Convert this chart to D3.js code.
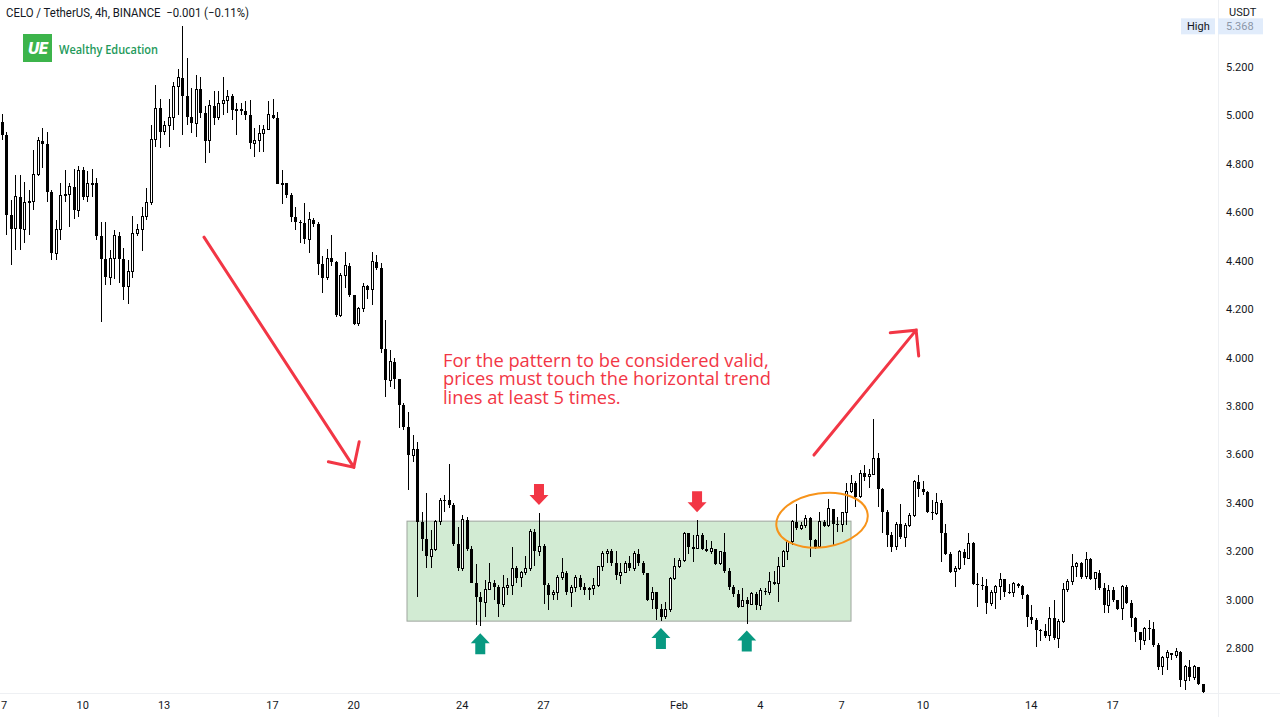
<!DOCTYPE html>
<html><head><meta charset="utf-8">
<script src="https://cdn.jsdelivr.net/npm/d3@7"></script>
<style>body{margin:0;background:#fff;overflow:hidden} svg{display:block} text{white-space:pre}</style>
</head><body>
<svg id="c" width="1280" height="717"></svg>
<script>
// ---------------- DATA ----------------
const startDate = "2022-01-07T00:00:00Z";
const barHours = 4;
const firstOpen = 4.974;
const closes = [4.919,4.588,4.531,4.664,4.53,4.639,4.644,4.754,4.896,4.88,
4.685,4.43,4.53,4.671,4.675,4.706,4.609,4.774,4.664,4.719,
4.72,4.502,4.405,4.331,4.409,4.502,4.405,4.292,4.354,4.513,
4.53,4.581,4.639,4.901,5.029,4.933,4.96,4.992,5.119,5.156,
5.08,4.995,4.967,5.108,5.009,4.896,5.039,4.99,5.05,5.06,
5.08,5.022,5.025,5.02,5.0,4.885,4.895,4.926,4.94,5.002,
4.99,4.717,4.72,4.671,4.579,4.56,4.557,4.488,4.568,4.55,
4.386,4.33,4.41,4.396,4.175,4.34,4.378,4.258,4.14,4.203,
4.295,4.28,4.396,4.37,4.034,3.907,3.983,3.91,3.803,3.714,
3.597,3.62,3.32,3.25,3.178,3.205,3.322,3.411,3.41,3.39,
3.23,3.13,3.33,3.21,3.07,3.01,2.99,3.04,3.07,3.05,
2.98,3.05,3.06,3.13,3.09,3.11,3.13,3.28,3.20,3.22,
3.06,3.02,3.03,3.09,3.11,3.03,3.05,3.09,3.05,3.04,
3.045,3.06,3.135,3.19,3.20,3.15,3.10,3.11,3.15,3.13,
3.19,3.15,3.11,3.00,3.03,2.96,2.93,2.96,3.087,3.135,
3.16,3.273,3.218,3.21,3.266,3.211,3.20,3.21,3.149,3.197,
3.12,3.05,3.025,2.97,2.998,2.98,3.025,2.977,3.036,3.03,
3.073,3.066,3.135,3.197,3.239,3.321,3.294,3.307,3.335,3.245,
3.218,3.321,3.304,3.376,3.314,3.31,3.358,3.445,3.48,3.424,
3.521,3.507,3.515,3.583,3.455,3.363,3.266,3.218,3.312,3.257,
3.307,3.349,3.487,3.455,3.445,3.363,3.356,3.40,3.273,3.188,
3.115,3.13,3.197,3.17,3.232,3.066,3.06,3.055,2.984,3.03,
3.053,3.083,3.032,3.03,3.066,3.058,3.018,2.929,2.915,2.874,
2.87,2.85,2.922,2.84,2.91,3.042,3.073,3.138,3.15,3.094,
3.166,3.087,3.11,3.046,2.977,3.039,2.998,2.963,3.053,2.987,
2.922,2.867,2.832,2.881,2.878,2.812,2.722,2.76,2.78,2.77,
2.784,2.667,2.722,2.68,2.722,2.653,2.619];
const highs = [5.005,4.93,4.65,4.754,4.754,4.726,4.692,4.857,4.912,4.949,
4.932,4.69,4.568,4.722,4.774,4.72,4.777,4.791,4.785,4.77,
4.777,4.74,4.561,4.561,4.444,4.526,4.52,4.451,4.403,4.584,
4.55,4.623,4.699,4.96,5.126,5.067,4.975,5.067,5.139,5.19,
5.368,5.238,5.112,5.167,5.157,5.04,5.064,5.10,5.10,5.16,
5.105,5.09,5.05,5.05,5.06,5.064,4.95,4.96,4.96,5.061,
5.066,5.016,4.774,4.72,4.68,4.623,4.57,4.639,4.60,4.575,
4.56,4.42,4.45,4.506,4.40,4.35,4.437,4.39,4.26,4.21,
4.309,4.30,4.437,4.424,4.39,4.155,4.03,4.0,3.91,3.81,
3.776,3.68,3.65,3.36,3.439,3.287,3.33,3.42,3.43,3.56,
3.40,3.30,3.35,3.34,3.22,3.149,3.03,3.08,3.152,3.08,
3.06,3.10,3.09,3.218,3.14,3.12,3.18,3.29,3.29,3.358,
3.23,3.07,3.04,3.10,3.17,3.12,3.06,3.10,3.10,3.07,
3.05,3.09,3.14,3.20,3.21,3.21,3.20,3.15,3.16,3.18,
3.20,3.21,3.16,3.11,3.05,3.03,2.98,2.99,3.094,3.17,
3.17,3.28,3.276,3.266,3.328,3.273,3.245,3.24,3.21,3.20,
3.273,3.13,3.06,3.04,3.046,3.01,3.03,3.03,3.046,3.046,
3.115,3.12,3.177,3.204,3.245,3.328,3.394,3.321,3.349,3.342,
3.252,3.363,3.328,3.414,3.376,3.342,3.363,3.48,3.514,3.49,
3.535,3.555,3.54,3.748,3.604,3.462,3.37,3.28,3.321,3.394,
3.318,3.356,3.494,3.514,3.49,3.45,3.41,3.44,3.41,3.311,
3.197,3.14,3.204,3.207,3.273,3.239,3.108,3.094,3.087,3.04,
3.06,3.108,3.087,3.066,3.073,3.07,3.06,3.025,2.977,2.925,
2.88,2.90,2.97,3.0,2.92,3.067,3.083,3.188,3.156,3.156,
3.197,3.17,3.115,3.124,3.07,3.06,3.053,3.0,3.06,3.06,
2.998,2.926,2.867,2.888,2.915,2.908,2.82,2.766,2.79,2.78,
2.80,2.787,2.729,2.75,2.73,2.722,2.653];
const lows = [4.898,4.506,4.382,4.444,4.444,4.473,4.506,4.61,4.75,4.782,
4.644,4.403,4.403,4.485,4.644,4.541,4.571,4.58,4.65,4.644,
4.664,4.485,4.148,4.299,4.299,4.326,4.306,4.237,4.221,4.33,
4.50,4.441,4.57,4.63,4.87,4.864,4.92,4.87,4.94,5.0,
4.919,4.96,4.926,4.912,4.99,4.805,4.843,4.96,4.98,5.0,
5.01,4.98,4.919,5.0,4.98,4.86,4.83,4.85,4.85,4.94,
4.985,4.717,4.634,4.66,4.56,4.526,4.471,4.47,4.43,4.54,
4.34,4.267,4.32,4.38,4.166,4.166,4.286,4.25,4.134,4.13,
4.19,4.24,4.216,4.36,4.017,3.838,3.88,3.87,3.707,3.70,
3.452,3.57,3.01,3.20,3.13,3.13,3.20,3.31,3.36,3.38,
3.22,3.12,3.12,3.20,3.07,2.894,2.89,2.93,3.04,3.0,
2.93,2.97,3.02,3.02,3.07,3.05,3.10,3.12,3.14,3.18,
2.98,2.956,3.00,3.00,3.08,3.02,2.97,3.03,3.04,3.02,
3.00,3.02,3.05,3.12,3.15,3.14,3.08,3.066,3.11,3.12,
3.12,3.14,3.10,2.995,2.96,2.915,2.912,2.92,2.95,3.08,
3.13,3.155,3.19,3.156,3.21,3.204,3.197,3.19,3.142,3.142,
3.11,3.04,3.01,2.967,2.97,2.901,2.977,2.956,2.956,3.02,
3.02,3.06,2.99,3.135,3.163,3.225,3.287,3.287,3.294,3.177,
3.211,3.232,3.30,3.30,3.221,3.28,3.28,3.31,3.44,3.383,
3.42,3.49,3.459,3.518,3.383,3.273,3.218,3.197,3.204,3.252,
3.218,3.30,3.34,3.425,3.43,3.356,3.328,3.349,3.156,3.184,
3.108,3.053,3.122,3.142,3.166,3.06,2.97,3.04,2.942,2.973,
2.963,3.0,3.011,3.025,3.011,3.046,3.004,2.887,2.901,2.805,
2.83,2.84,2.83,2.835,2.80,2.904,3.032,3.06,3.094,3.087,
3.087,3.08,3.039,3.039,2.943,2.943,2.99,2.956,2.915,2.98,
2.887,2.826,2.791,2.812,2.832,2.805,2.708,2.688,2.71,2.75,
2.757,2.64,2.625,2.664,2.667,2.646,2.616];

const tickDates = ["2022-01-07","2022-01-10","2022-01-13","2022-01-17","2022-01-20","2022-01-24","2022-01-27","2022-02-01","2022-02-04","2022-02-07","2022-02-10","2022-02-14","2022-02-17"];
const tickLabels = ["7","10","13","17","20","24","27","Feb","4","7","10","14","17"];
const priceTicks = [2.8,3.0,3.2,3.4,3.6,3.8,4.0,4.2,4.4,4.6,4.8,5.0,5.2];
const sessionHigh = 5.368;

// annotations (in data space)
const rangeBox = {from:"2022-01-21T23:07:00Z", to:"2022-02-07T08:20:00Z", top:3.324, bottom:2.911};
const trendArrows = [
  {from:["2022-01-14T11:20:00Z",4.497], to:["2022-01-20T00:00:00Z",3.547]},
  {from:["2022-02-05T23:30:00Z",3.597], to:["2022-02-09T18:00:00Z",4.113]}
];
const resistanceTouches = [119,154];
const supportTouches = [106,146,165];
const breakoutZone = {at:"2022-02-06T06:40:00Z", price:3.328};
const noteLines = ["For the pattern to be considered valid,","prices must touch the horizontal trend","lines at least 5 times."];
const noteAnchor = {at:"2022-01-23T07:00:00Z", price:3.962};

// ---------------- CHART ----------------
const svg = d3.select("#c");
const plotR = 1218, plotB = 693;
const x = d3.scaleUtc()
  .domain([new Date(startDate), new Date("2022-02-20T00:00:00Z")])
  .range([1.5, 1.5 + 44*27.1]);
const y = d3.scaleLinear().domain([2.8, 5.2]).range([648, 67]);

const t0 = new Date(startDate).getTime();
const bars = closes.map((c,i)=>({
  i, date:new Date(t0 + i*barHours*3600e3),
  o: i ? closes[i-1] : firstOpen, c, h: highs[i], l: lows[i]
}));

svg.append("rect").attr("width",1280).attr("height",717).attr("fill","#fff");
svg.append("defs").append("clipPath").attr("id","plot")
  .append("rect").attr("x",0).attr("y",0).attr("width",plotR).attr("height",plotB);

// separators
svg.append("line").attr("x1",plotR+0.5).attr("x2",plotR+0.5).attr("y1",0).attr("y2",717)
  .attr("stroke","#eef0f3");
svg.append("line").attr("x1",0).attr("x2",1280).attr("y1",plotB+0.5).attr("y2",plotB+0.5)
  .attr("stroke","#eef0f3");

const plot = svg.append("g").attr("clip-path","url(#plot)");

// range box
plot.append("rect")
  .attr("x", x(new Date(rangeBox.from)))
  .attr("y", y(rangeBox.top))
  .attr("width", x(new Date(rangeBox.to)) - x(new Date(rangeBox.from)))
  .attr("height", y(rangeBox.bottom) - y(rangeBox.top))
  .attr("fill","rgba(76,175,80,0.25)")
  .attr("stroke","#9ea59e").attr("stroke-width",1);

// candles
const cg = plot.append("g").attr("shape-rendering","crispEdges");
const candle = cg.selectAll("g.cd").data(bars).join("g").attr("class","cd");
candle.append("line")
  .attr("x1", d=>Math.round(x(d.date))+0.5).attr("x2", d=>Math.round(x(d.date))+0.5)
  .attr("y1", d=>y(Math.max(d.h,d.o,d.c))).attr("y2", d=>y(Math.min(d.l,d.o,d.c)))
  .attr("stroke","#000").attr("stroke-width",1);
candle.append("rect")
  .attr("x", d=> d.c>=d.o ? Math.round(x(d.date))-0.5 : Math.round(x(d.date))-1)
  .attr("width", d=> d.c>=d.o ? 2 : 3)
  .attr("y", d=>y(Math.max(d.o,d.c)))
  .attr("height", d=>Math.max(1, Math.abs(y(d.o)-y(d.c))))
  .attr("fill", d=> d.c>=d.o ? "#fff" : "#000")
  .attr("stroke", d=> d.c>=d.o ? "#000" : "none")
  .attr("stroke-width",1);

// trend arrows
const red = "#f23645";
trendArrows.forEach(a=>{
  const x1=x(new Date(a.from[0])), y1=y(a.from[1]), x2=x(new Date(a.to[0])), y2=y(a.to[1]);
  plot.append("line").attr("x1",x1).attr("y1",y1).attr("x2",x2).attr("y2",y2)
    .attr("stroke",red).attr("stroke-width",3).attr("stroke-linecap","round");
  const back = Math.atan2(y1-y2, x1-x2), L = 26, sp = Math.PI/4;
  const pts = [[x2+L*Math.cos(back-sp), y2+L*Math.sin(back-sp)],[x2,y2],[x2+L*Math.cos(back+sp), y2+L*Math.sin(back+sp)]];
  plot.append("path").attr("d", d3.line()(pts)).attr("fill","none")
    .attr("stroke",red).attr("stroke-width",3).attr("stroke-linecap","round").attr("stroke-linejoin","miter");
});

// touch markers (block arrows)
function blockArrow(cx, tipY, dir, color){
  // dir: 1 = pointing down, -1 = pointing up
  const hw = 9.5, sw = 5, hh = 10, sh = 11;
  const pts = [[cx, tipY],[cx+hw, tipY-dir*hh],[cx+sw, tipY-dir*hh],[cx+sw, tipY-dir*(hh+sh)],
               [cx-sw, tipY-dir*(hh+sh)],[cx-sw, tipY-dir*hh],[cx-hw, tipY-dir*hh]];
  plot.append("path").attr("d", d3.line()(pts)+"Z").attr("fill",color);
}
resistanceTouches.forEach(i=>{
  const b = bars[i]; blockArrow(x(b.date), y(b.h)-8, 1, red);
});
supportTouches.forEach(i=>{
  const b = bars[i]; blockArrow(x(b.date), y(b.l)+7, -1, "#089981");
});

// breakout ellipse
plot.append("ellipse")
  .attr("cx", x(new Date(breakoutZone.at))).attr("cy", y(breakoutZone.price))
  .attr("rx",46).attr("ry",27).attr("fill","none")
  .attr("stroke","#f7931a").attr("stroke-width",2)
  .attr("transform", `rotate(-8 ${x(new Date(breakoutZone.at))} ${y(breakoutZone.price)})`);

// note text
const nx = x(new Date(noteAnchor.at));
const note = plot.append("g").attr("fill",red).attr("font-family","'Open Sans', sans-serif").attr("font-size",18.3);
noteLines.forEach((t,k)=> note.append("text").attr("x", nx).attr("y", y(noteAnchor.price) + k*18.6).text(t));

// y axis labels
const yg = svg.append("g").attr("font-family","Roboto, sans-serif").attr("font-size",11).attr("fill","#131722");
yg.selectAll("text").data(priceTicks).join("text")
  .attr("x",1226).attr("y", d=>y(d)+4).text(d=>d3.format(".3f")(d));
yg.append("text").attr("x",1229).attr("y",16).text("USDT");
// high label
svg.append("rect").attr("x",1181).attr("y",y(sessionHigh)-8).attr("width",34).attr("height",16).attr("fill","#e1ecfb");
svg.append("rect").attr("x",1218).attr("y",y(sessionHigh)-8).attr("width",45).attr("height",16).attr("fill","#e1ecfb");
svg.append("text").attr("x",1187).attr("y",y(sessionHigh)+4).attr("font-family","Roboto, sans-serif").attr("font-size",11).attr("fill","#131722").text("High");
svg.append("text").attr("x",1226).attr("y",y(sessionHigh)+4).attr("font-family","Roboto, sans-serif").attr("font-size",11).attr("fill","#8c97a8").text(d3.format(".3f")(sessionHigh));

// x axis labels
const xg = svg.append("g").attr("font-family","Roboto, sans-serif").attr("font-size",11).attr("fill","#131722").attr("text-anchor","middle");
xg.selectAll("text").data(tickDates).join("text")
  .attr("x", d=>Math.max(4, x(new Date(d+"T00:00:00Z")))).attr("y",709)
  .text((d,k)=>tickLabels[k]);

// header
svg.append("text").attr("x",6).attr("y",17).attr("font-family","Roboto, sans-serif").attr("font-size",12)
  .attr("textLength",243).attr("lengthAdjust","spacingAndGlyphs")
  .attr("fill","#131722").text("CELO / TetherUS, 4h, BINANCE  \u22120.001 (\u22120.11%)");
// logo
svg.append("rect").attr("x",23).attr("y",34).attr("width",29).attr("height",28).attr("fill","#3cb44b");
svg.append("text").attr("x",37.5).attr("y",54).attr("text-anchor","middle").attr("font-family","'DejaVu Sans', sans-serif")
  .attr("font-weight","bold").attr("font-style","italic").attr("font-size",15).attr("letter-spacing",-1.5).attr("fill","#fff").text("UE");
svg.append("text").attr("x",59).attr("y",54).attr("font-family","'Open Sans', sans-serif").attr("font-weight",600)
  .attr("font-size",13).attr("textLength",99).attr("lengthAdjust","spacingAndGlyphs")
  .attr("fill","#22995a").text("Wealthy Education");
</script>
</body></html>
